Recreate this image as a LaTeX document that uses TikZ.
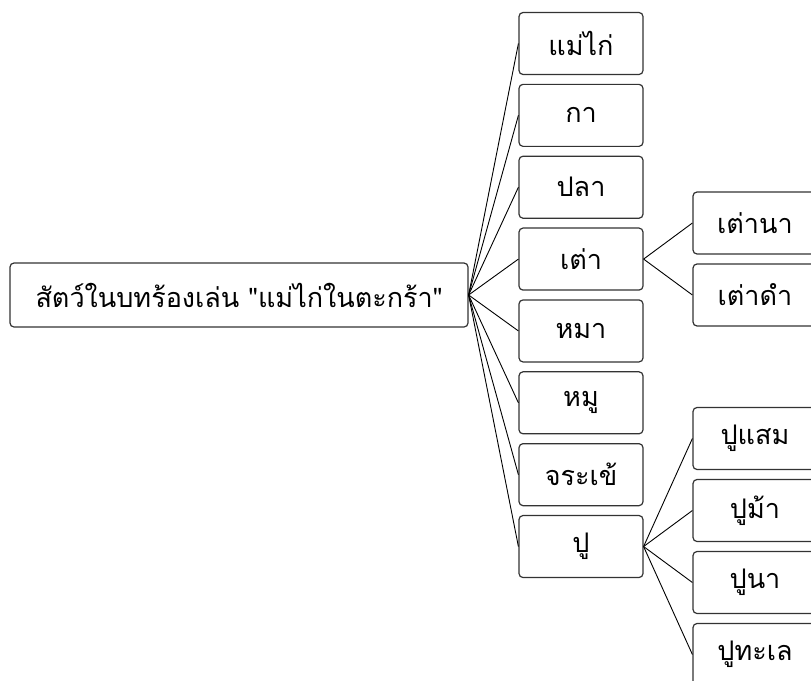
\documentclass[tikz,border=0pt]{standalone}
\usepackage{fontspec}
\newfontfamily\thaifont[Script=Thai]{Loma}
\tikzset{
  animalbox/.style={draw=black!80,line width=1.2pt,rounded corners=4pt,fill=white,
    minimum width=124pt,minimum height=62pt,inner sep=0pt,
    font=\thaifont\fontsize{27}{32}\selectfont},
  rootbox/.style={animalbox,minimum width=458pt,minimum height=64pt},
  branch/.style={draw=black,line width=0.9pt}
}
\begin{document}
\begin{tikzpicture}[x=1pt,y=-1pt]
        \useasboundingbox (0,0) rectangle (811,680);
        % root
        \node[rootbox] (root) at (239,295) {สัตว์ในบทร้องเล่น "แม่ไก่ในตะกร้า"};
        % first level
        \foreach \name/\txt [count=\i from 0] in {hen/แม่ไก่,crow/กา,fish/ปลา,turtle/เต่า,dog/หมา,pig/หมู,croc/จระเข้,crab/ปู}{
            \node[animalbox] (\name) at (581,43.5+71.86*\i) {\txt};
            \draw[branch] (root.east) -- (\name.west);
        }
        % turtles
        \node[animalbox] (turtleA) at (755,223) {เต่านา};
        \node[animalbox] (turtleB) at (755,295) {เต่าดำ};
        \draw[branch] (turtle.east) -- (turtleA.west);
        \draw[branch] (turtle.east) -- (turtleB.west);
        % crabs
        \foreach \name/\txt [count=\i from 0] in {crabA/ปูแสม,crabB/ปูม้า,crabC/ปูนา,crabD/ปูทะเล}{
            \node[animalbox] (\name) at (755,438.5+72*\i) {\txt};
            \draw[branch] (crab.east) -- (\name.west);
        }
\end{tikzpicture}
\end{document}
